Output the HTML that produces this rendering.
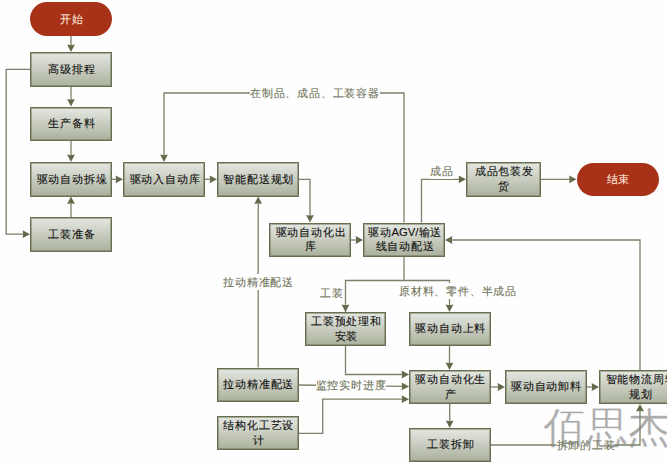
<!DOCTYPE html><html><head><meta charset="utf-8"><style>
html,body{margin:0;padding:0;}
body{width:667px;height:463px;overflow:hidden;background:#fefefe;position:relative;font-family:"Liberation Sans",sans-serif;}
svg{position:absolute;left:0;top:0;}
.b{position:absolute;box-sizing:border-box;border:1px solid #687052;box-shadow:inset 0 0 0 1px rgba(105,112,83,0.5);background:linear-gradient(#e4e7e1,#abb19d);display:flex;align-items:center;justify-content:center;text-align:center;font-size:11.3px;letter-spacing:0.8px;line-height:14.5px;color:#111;white-space:nowrap;-webkit-text-stroke:0.12px #111;}
.b>div{margin-right:-2px;position:relative;top:-0.5px;}
.p>div{margin-right:-2px;}
.p{position:absolute;box-sizing:border-box;background:#a83218;border-radius:17px;display:flex;align-items:center;justify-content:center;font-size:11.3px;letter-spacing:0.8px;color:#fbe6dc;-webkit-text-stroke:0.12px #fbe6dc;}
.l{position:absolute;width:200px;text-align:center;font-size:11.3px;letter-spacing:0.8px;line-height:16px;color:#6f7459;-webkit-text-stroke:0.1px #6f7459;white-space:nowrap;}
.l span{background:#fefefe;display:inline-block;height:16px;line-height:16px;vertical-align:top;}
.en{letter-spacing:0;}
.l span.nb{background:transparent;}
.wm{position:absolute;left:543px;top:403px;font-size:42px;line-height:50px;color:#ababab;white-space:nowrap;letter-spacing:0.5px;-webkit-text-stroke:0.4px #fefefe;}
</style></head><body>

<div class="wm">佰思杰</div>
<svg width="667" height="463" viewBox="0 0 667 463"><path d="M71,36 L71.0,48.0" fill="none" stroke="#7b816a" stroke-width="1.3"/><path d="M71.00,52.00 L67.10,44.60 L71.00,45.20 L74.90,44.60 Z" fill="#616b4b"/><path d="M71,86.5 L71.0,102.5" fill="none" stroke="#7b816a" stroke-width="1.3"/><path d="M71.00,106.50 L67.10,99.10 L71.00,99.70 L74.90,99.10 Z" fill="#616b4b"/><path d="M71,141 L71.0,158.0" fill="none" stroke="#7b816a" stroke-width="1.3"/><path d="M71.00,162.00 L67.10,154.60 L71.00,155.20 L74.90,154.60 Z" fill="#616b4b"/><path d="M71,217 L71.0,200.5" fill="none" stroke="#7b816a" stroke-width="1.3"/><path d="M71.00,196.50 L74.90,203.90 L71.00,203.30 L67.10,203.90 Z" fill="#616b4b"/><path d="M30,69.4 L6.2,69.4 L6.2,234.2 L26.0,234.2" fill="none" stroke="#7b816a" stroke-width="1.3"/><path d="M30.00,234.20 L22.60,238.10 L23.20,234.20 L22.60,230.30 Z" fill="#616b4b"/><path d="M112,179.3 L119.0,179.3" fill="none" stroke="#7b816a" stroke-width="1.3"/><path d="M123.00,179.30 L115.60,183.20 L116.20,179.30 L115.60,175.40 Z" fill="#616b4b"/><path d="M205,179.3 L213.0,179.3" fill="none" stroke="#7b816a" stroke-width="1.3"/><path d="M217.00,179.30 L209.60,183.20 L210.20,179.30 L209.60,175.40 Z" fill="#616b4b"/><path d="M298.5,179.3 L310,179.3 L310.0,218.5" fill="none" stroke="#7b816a" stroke-width="1.3"/><path d="M310.00,222.50 L306.10,215.10 L310.00,215.70 L313.90,215.10 Z" fill="#616b4b"/><path d="M351,240 L359.0,240.0" fill="none" stroke="#7b816a" stroke-width="1.3"/><path d="M363.00,240.00 L355.60,243.90 L356.20,240.00 L355.60,236.10 Z" fill="#616b4b"/><path d="M404,222.5 L404,93 L164,93 L164.0,158.0" fill="none" stroke="#7b816a" stroke-width="1.3"/><path d="M164.00,162.00 L160.10,154.60 L164.00,155.20 L167.90,154.60 Z" fill="#616b4b"/><path d="M421.5,222.5 L421.5,179.3 L462.0,179.3" fill="none" stroke="#7b816a" stroke-width="1.3"/><path d="M466.00,179.30 L458.60,183.20 L459.20,179.30 L458.60,175.40 Z" fill="#616b4b"/><path d="M540.5,179.3 L572.5,179.3" fill="none" stroke="#7b816a" stroke-width="1.3"/><path d="M576.50,179.30 L569.10,183.20 L569.70,179.30 L569.10,175.40 Z" fill="#616b4b"/><path d="M345.5,312 L345.5,280.5 L449.5,280.5 L449.5,308.0" fill="none" stroke="#7b816a" stroke-width="1.3"/><path d="M345.50,312.00 L341.60,304.60 L345.50,305.20 L349.40,304.60 Z" fill="#616b4b"/><path d="M449.50,312.00 L445.60,304.60 L449.50,305.20 L453.40,304.60 Z" fill="#616b4b"/><path d="M404,257 L404,280.5" fill="none" stroke="#7b816a" stroke-width="1.3"/><path d="M345.5,346 L345.5,374.5 L405.0,374.5" fill="none" stroke="#7b816a" stroke-width="1.3"/><path d="M409.00,374.50 L401.60,378.40 L402.20,374.50 L401.60,370.60 Z" fill="#616b4b"/><path d="M449.5,346 L449.5,366.0" fill="none" stroke="#7b816a" stroke-width="1.3"/><path d="M449.50,370.00 L445.60,362.60 L449.50,363.20 L453.40,362.60 Z" fill="#616b4b"/><path d="M298.5,385 L405.0003684918965,386.4457063596185" fill="none" stroke="#7b816a" stroke-width="1.3"/><path d="M409.00,386.50 L401.55,390.30 L402.20,386.41 L401.65,382.50 Z" fill="#616b4b"/><path d="M298.5,433.3 L322.7,433.3 L322.7,399.2 L405.0,399.2" fill="none" stroke="#7b816a" stroke-width="1.3"/><path d="M409.00,399.20 L401.60,403.10 L402.20,399.20 L401.60,395.30 Z" fill="#616b4b"/><path d="M258.2,367.5 L258.2,200.5" fill="none" stroke="#7b816a" stroke-width="1.3"/><path d="M258.20,196.50 L262.10,203.90 L258.20,203.30 L254.30,203.90 Z" fill="#616b4b"/><path d="M490.5,387 L501.0,387.0" fill="none" stroke="#7b816a" stroke-width="1.3"/><path d="M505.00,387.00 L497.60,390.90 L498.20,387.00 L497.60,383.10 Z" fill="#616b4b"/><path d="M586.5,387 L595.0,387.0" fill="none" stroke="#7b816a" stroke-width="1.3"/><path d="M599.00,387.00 L591.60,390.90 L592.20,387.00 L591.60,383.10 Z" fill="#616b4b"/><path d="M449.7,404 L449.7,424.0" fill="none" stroke="#7b816a" stroke-width="1.3"/><path d="M449.70,428.00 L445.80,420.60 L449.70,421.20 L453.60,420.60 Z" fill="#616b4b"/><path d="M490.5,445 L556.5,445" fill="none" stroke="#7b816a" stroke-width="1.3"/><path d="M614.5,445 L640,445 L640.0,408.0" fill="none" stroke="#7b816a" stroke-width="1.3"/><path d="M640.00,404.00 L643.90,411.40 L640.00,410.80 L636.10,411.40 Z" fill="#616b4b"/><path d="M640,370 L640,240 L449.0,240.0" fill="none" stroke="#7b816a" stroke-width="1.3"/><path d="M445.00,240.00 L452.40,236.10 L451.80,240.00 L452.40,243.90 Z" fill="#616b4b"/></svg>
<div class="b" style="left:30px;top:52px;width:82px;height:34.5px"><div>高级排程</div></div>
<div class="b" style="left:30px;top:106.5px;width:82px;height:34.5px"><div>生产备料</div></div>
<div class="b" style="left:30px;top:162px;width:82px;height:34.5px"><div>驱动自动拆垛</div></div>
<div class="b" style="left:30px;top:217px;width:82px;height:34.5px"><div>工装准备</div></div>
<div class="b" style="left:123px;top:162px;width:82px;height:34.5px"><div>驱动入自动库</div></div>
<div class="b" style="left:217px;top:162px;width:81.5px;height:34.5px"><div>智能配送规划</div></div>
<div class="b" style="left:269px;top:222.5px;width:82px;height:34.5px"><div>驱动自动化出<br>库</div></div>
<div class="b" style="left:363px;top:222.5px;width:82px;height:34.5px"><div>驱动<span class=en>AGV/</span>输送<br>线自动配送</div></div>
<div class="b" style="left:466px;top:162px;width:74.5px;height:34.5px"><div>成品包装发<br>货</div></div>
<div class="b" style="left:305px;top:312px;width:81px;height:34px"><div>工装预处理和<br>安装</div></div>
<div class="b" style="left:409px;top:312px;width:81.5px;height:34px"><div>驱动自动上料</div></div>
<div class="b" style="left:217px;top:367.5px;width:81.5px;height:34.5px"><div>拉动精准配送</div></div>
<div class="b" style="left:217px;top:416px;width:81.5px;height:34px"><div>结构化工艺设<br>计</div></div>
<div class="b" style="left:409px;top:370px;width:81.5px;height:34px"><div>驱动自动化生<br>产</div></div>
<div class="b" style="left:504.5px;top:370px;width:82px;height:34px"><div>驱动自动卸料</div></div>
<div class="b" style="left:599px;top:370px;width:82px;height:34px"><div>智能物流周转<br>规划</div></div>
<div class="b" style="left:409px;top:428px;width:81.5px;height:34px"><div>工装拆卸</div></div>
<div class="p" style="left:30px;top:2.3px;width:82px;height:33.7px"><div>开始</div></div>
<div class="p" style="left:576.5px;top:163px;width:82px;height:33px"><div>结束</div></div>
<div class="l" style="left:215.0px;top:84.5px"><span>在制品、成品、工装容器</span></div>
<div class="l" style="left:341.8px;top:163.0px"><span>成品</span></div>
<div class="l" style="left:231.9px;top:284.9px"><span>工装</span></div>
<div class="l" style="left:358.1px;top:283.3px"><span>原材料、零件、半成品</span></div>
<div class="l" style="left:251.0px;top:376.6px"><span>监控实时进度</span></div>
<div class="l" style="left:158.6px;top:274.0px"><span>拉动精准配送</span></div>
<div class="l" style="left:486.2px;top:436.5px"><span class=nb>拆卸的工装</span></div>
</body></html>
